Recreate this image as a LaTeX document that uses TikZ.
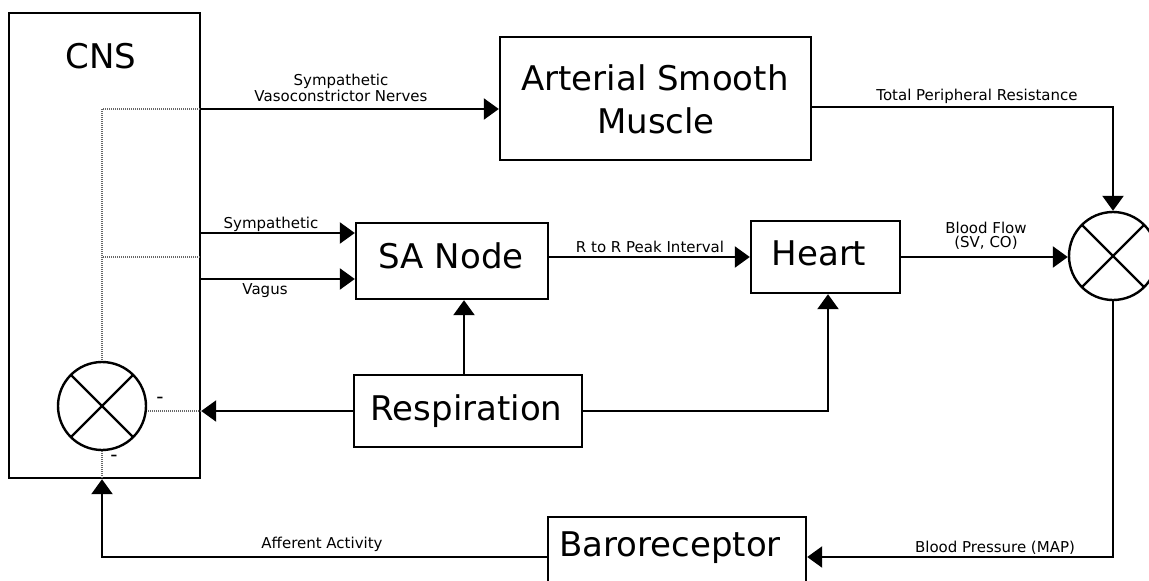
\documentclass[tikz,border=0pt]{standalone}
\usepackage{fontspec}
\setmainfont{DejaVu Sans}
\usetikzlibrary{arrows.meta,calc}
\begin{document}
\begin{tikzpicture}[x=1pt,y=-1pt,
  box/.style={draw, line width=2.4pt, rectangle, inner sep=0pt},
  big/.style={font=\fontsize{34}{43}\selectfont, inner sep=0pt, anchor=base},
  lbl/.style={font=\fontsize{15}{17}\selectfont, inner sep=0pt, anchor=base},
  dashlbl/.style={font=\fontsize{20}{22}\selectfont, inner sep=0pt},
  arr/.style={line width=2.4pt, -{Triangle[length=15pt,width=21pt]}},
  dotl/.style={gray!80!black, line width=1.3pt, dash pattern=on 1pt off 1pt},
  sumc/.style={circle, draw, line width=2.4pt, minimum size=88pt, inner sep=0pt,
    path picture={\draw[line width=2.4pt] (path picture bounding box.south west) -- (path picture bounding box.north east)
      (path picture bounding box.north west) -- (path picture bounding box.south east);}}
]
\useasboundingbox (0,0) rectangle (1149,581);
% boxes
\node[box, minimum width=191, minimum height=465] (cns) at (104.5,245.5) {};
\node[box, minimum width=311, minimum height=123] (asm) at (655.5,98.5) {};
\node[box, minimum width=192, minimum height=76] (sa) at (452,261) {};
\node[box, minimum width=149, minimum height=72] (heart) at (825.5,257) {};
\node[box, minimum width=228, minimum height=72] (resp) at (468,411) {};
\node[box, minimum width=258, minimum height=80] (baro) at (677,557) {};
\node[sumc] (sumr) at (1113,256) {};
\node[sumc] (suml) at (102,406) {};
% box texts
\node[big] (cnst) at (101,68) {CNS};
\node[big] (asmt1) at (655,90) {Arterial Smooth};
\node[big] (asmt2) at (656,133) {Muscle};
\node[big] (sat) at (451,268) {SA Node};
\node[big] (heartt) at (819,265) {Heart};
\node[big] (respt) at (466.5,420) {Respiration};
\node[big] (barot) at (670,556) {Baroreceptor};
% coordinates
\coordinate (svs) at (200,109);
\coordinate (tpr) at (811,107);
\coordinate (sy) at (200,233);
\coordinate (vg) at (200,279);
\coordinate (dm) at (200,257);
\coordinate (rx) at (464,0);
\coordinate (hx) at (828,0);
% dotted internal lines
\draw[dotl] (svs) -| (suml.north);
\draw[dotl] (dm) -- (dm -| suml.north);
\draw[dotl] (resp.west -| cns.east) -- (resp.west -| suml.east);
\draw[dotl] (suml.south) -- (suml.south |- cns.south);
% connectors
\draw[arr] (svs) -- (svs -| asm.west);
\draw[arr] (tpr) -| (sumr.north);
\draw[arr] (sy) -- (sy -| sa.west);
\draw[arr] (vg) -- (vg -| sa.west);
\draw[arr] (sa.east |- heart.west) -- (heart.west);
\draw[arr] (heart.east) -- (heart.east -| sumr.west);
\draw[arr] (resp.north -| rx) -- (sa.south -| rx);
\draw[arr] (resp.east) -| (heart.south -| hx);
\draw[arr] (resp.west) -- (resp.west -| cns.east);
\draw[arr] (sumr.south) |- (baro.east);
\draw[arr] (baro.west) -| (cns.south -| suml.south);
% labels
\node[lbl] (l1a) at (341,85) {Sympathetic};
\node[lbl] (l1b) at (341,101) {Vasoconstrictor Nerves};
\node[lbl] (l2) at (271,228) {Sympathetic};
\node[lbl] (l3) at (265,294) {Vagus};
\node[lbl] (l4) at (650,252) {R to R Peak Interval};
\node[lbl] (l5) at (977,100) {Total Peripheral Resistance};
\node[lbl] (l6a) at (986,233) {Blood Flow};
\node[lbl] (l6b) at (986,247) {(SV, CO)};
\node[lbl] (l7) at (322,548) {Afferent Activity};
\node[lbl] (l8) at (995,552) {Blood Pressure (MAP)};
\node[dashlbl] (m1) at (160,400) {-};
\node[dashlbl] (m2) at (114,458) {-};
\end{tikzpicture}
\end{document}
